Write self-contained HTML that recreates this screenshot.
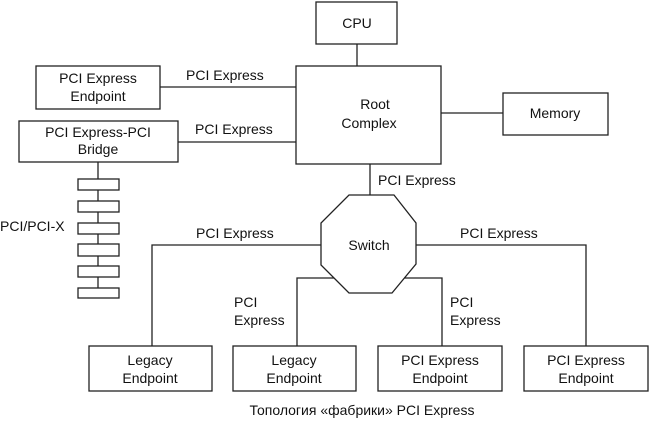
<!DOCTYPE html>
<html><head><style>
body{margin:0;background:#fff;}
svg text{font-family:"Liberation Sans",sans-serif;font-size:14px;fill:#111;}
</style></head><body>
<svg width="649" height="420" viewBox="0 0 649 420" xmlns="http://www.w3.org/2000/svg">
<g fill="none" stroke="#222" stroke-width="1.3">
<rect x="316" y="2" width="81" height="42"/>
<rect x="296" y="66" width="145" height="98"/>
<rect x="503" y="93" width="105" height="42"/>
<rect x="36" y="66" width="124" height="43"/>
<rect x="19" y="121" width="159" height="41"/>
<rect x="89" y="346" width="123" height="45"/>
<rect x="233" y="346" width="123" height="45"/>
<rect x="378" y="346" width="124" height="45"/>
<rect x="524" y="346" width="124" height="45"/>
<polygon points="349,195 394,195 416,223 416,264 392,293 349,293 321,265 321,223"/>
<line x1="357" y1="44" x2="357" y2="66"/>
<line x1="160" y1="87" x2="296" y2="87"/>
<line x1="178" y1="142" x2="296" y2="142"/>
<line x1="441" y1="113" x2="503" y2="113"/>
<line x1="370" y1="164" x2="370" y2="195"/>
<polyline points="321,245 152,245 152,346"/>
<polyline points="416,245 586,245 586,346"/>
<polyline points="334,278 297,278 297,346"/>
<polyline points="404,278 442,278 442,346"/>
<line x1="98" y1="162" x2="98" y2="293"/>
</g>
<g fill="#fff" stroke="#222" stroke-width="1.3">
<rect x="78" y="179" width="41" height="11"/>
<rect x="78" y="201" width="41" height="11"/>
<rect x="78" y="223" width="41" height="11"/>
<rect x="78" y="244" width="41" height="12"/>
<rect x="78" y="266" width="41" height="11"/>
<rect x="78" y="288" width="41" height="10"/>
</g>
<g text-anchor="middle">
<text x="357" y="28">CPU</text>
<text x="375" y="109">Root</text>
<text x="369" y="128">Complex</text>
<text x="555" y="118">Memory</text>
<text x="98" y="83">PCI Express</text>
<text x="98" y="101">Endpoint</text>
<text x="98" y="137">PCI Express-PCI</text>
<text x="98" y="154">Bridge</text>
<text x="369" y="250">Switch</text>
<text x="150" y="365">Legacy</text>
<text x="150" y="383">Endpoint</text>
<text x="294" y="365">Legacy</text>
<text x="294" y="383">Endpoint</text>
<text x="440" y="365">PCI Express</text>
<text x="440" y="383">Endpoint</text>
<text x="586" y="365">PCI Express</text>
<text x="586" y="383">Endpoint</text>
<text x="362" y="415">Топология «фабрики» PCI Express</text>
</g>
<text x="186" y="80">PCI Express</text>
<text x="195" y="134">PCI Express</text>
<text x="378" y="185">PCI Express</text>
<text x="196" y="238">PCI Express</text>
<text x="460" y="238">PCI Express</text>
<text x="234" y="307">PCI</text>
<text x="234" y="325">Express</text>
<text x="450" y="307">PCI</text>
<text x="450" y="325">Express</text>
<text x="0" y="231">PCI/PCI-X</text>
</svg>
</body></html>
